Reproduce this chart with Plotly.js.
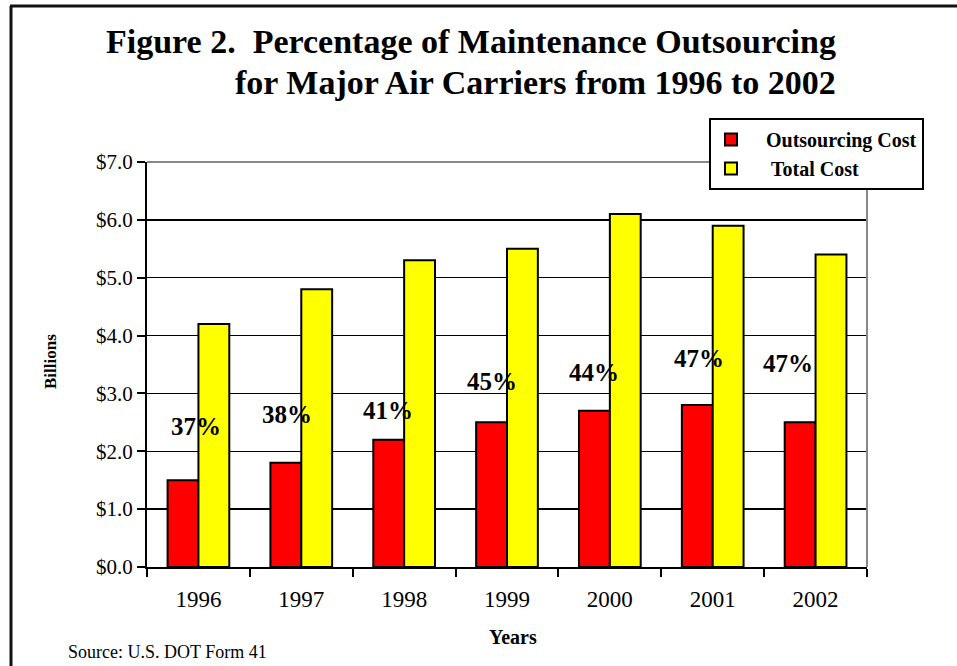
<!DOCTYPE html>
<html>
<head>
<meta charset="utf-8">
<script src="https://cdn.plot.ly/plotly-3.0.1.min.js"></script>
<style>html,body{margin:0;padding:0;background:#fff}#chart{width:957px;height:666px}</style>
</head>
<body>
<div id="chart"></div>
<script>
const years = ['1996','1997','1998','1999','2000','2001','2002'];
const outsourcingCost = [1.5, 1.8, 2.2, 2.5, 2.7, 2.8, 2.5];
const totalCost = [4.2, 4.8, 5.3, 5.5, 6.1, 5.9, 5.4];
const pctLabels = ['37%', '38%', '41%', '45%', '44%', '47%', '47%'];
const pctLabelY = [2.42, 2.64, 2.71, 3.21, 3.37, 3.61, 3.51];
const pctShift = [-2, -14, -16, -15, -16, -14, -28];
const seriesNames = ['Outsourcing Cost', 'Total Cost'];

const serif = 'Liberation Serif, Times New Roman, serif';

// pixel -> paper helpers (plot area 147..867 x, 162..567 y)
const L = 147, R = 867, T = 162, B = 567;
const px = v => (v - L) / (R - L);
const py = v => (B - v) / (B - T);

const traces = [
  {type: 'bar', name: '\u00a0\u00a0\u00a0' + seriesNames[0], x: years, y: outsourcingCost,
   marker: {color: '#FF0000', line: {color: '#000', width: 2}}},
  {type: 'bar', name: '\u00a0\u00a0\u00a0\u00a0' + seriesNames[1], x: years, y: totalCost,
   marker: {color: '#FFFF00', line: {color: '#000', width: 2}}}
];

const annotations = [
  {xref: 'paper', yref: 'paper', x: px(838), y: py(41), xanchor: 'right', yanchor: 'middle',
   text: '<b>Figure 2.  Percentage of Maintenance Outsourcing</b>', showarrow: false,
   font: {family: serif, size: 34, color: '#000'}},
  {xref: 'paper', yref: 'paper', x: px(838), y: py(83), xanchor: 'right', yanchor: 'middle',
   text: '<b>for Major Air Carriers from 1996 to 2002</b>', showarrow: false,
   font: {family: serif, size: 34, color: '#000'}},
  {xref: 'paper', yref: 'paper', x: px(50), y: py(362), xanchor: 'center', yanchor: 'middle', textangle: -90,
   text: '<b>Billions</b>', showarrow: false, font: {family: serif, size: 17, color: '#000'}},
  {xref: 'paper', yref: 'paper', x: px(513), y: py(637), xanchor: 'center', yanchor: 'middle',
   text: '<b>Years</b>', showarrow: false, font: {family: serif, size: 20, color: '#000'}},
  {xref: 'paper', yref: 'paper', x: px(66), y: py(652), xanchor: 'left', yanchor: 'middle',
   text: 'Source: U.S. DOT Form 41', showarrow: false, font: {family: serif, size: 18, color: '#000'}}
];
years.forEach((yr, i) => {
  annotations.push({x: i, y: pctLabelY[i], xref: 'x', yref: 'y', xshift: pctShift[i],
    xanchor: 'center', yanchor: 'middle',
    text: '<b>' + pctLabels[i] + '</b>', showarrow: false,
    font: {family: serif, size: 25, color: '#000'}});
});

const shapes = [
  // outer frame (left + top)
  {type: 'line', xref: 'paper', yref: 'paper', x0: px(11), x1: px(11), y0: py(6), y1: py(700),
   line: {color: '#111', width: 3}},
  {type: 'line', xref: 'paper', yref: 'paper', x0: px(10), x1: px(1000), y0: py(6), y1: py(6),
   line: {color: '#111', width: 3}},
  // gray plot top and right
  {type: 'line', xref: 'paper', yref: 'paper', x0: 0, x1: 1, y0: 1, y1: 1,
   line: {color: '#888', width: 2}},
  {type: 'line', xref: 'paper', yref: 'paper', x0: 1, x1: 1, y0: 0, y1: 1,
   line: {color: '#888', width: 2}}
];

const layout = {
  width: 957, height: 666,
  margin: {l: L, r: 957 - R, t: T, b: 666 - B, autoexpand: false},
  paper_bgcolor: '#fff', plot_bgcolor: '#fff',
  font: {family: serif, color: '#000'},
  barmode: 'group', bargap: 0.4, bargroupgap: 0,
  showlegend: true,
  legend: {x: px(709), y: py(118), xanchor: 'left', yanchor: 'top',
    bgcolor: '#fff', bordercolor: '#000', borderwidth: 2,
    font: {family: serif, size: 20, color: '#000', weight: 'bold'},
    itemwidth: 30, traceorder: 'normal'},
  xaxis: {type: 'category', range: [-0.5, 6.5], showgrid: false, showline: true, linecolor: '#000', linewidth: 2,
    ticks: 'outside', tickson: 'boundaries', ticklen: 8, tickwidth: 2, tickcolor: '#000',
    ticklabelstandoff: 10,
    tickfont: {family: serif, size: 23, color: '#000'}, zeroline: false, fixedrange: true},
  yaxis: {range: [0, 7], dtick: 1, tickformat: '$.1f', showgrid: true, gridcolor: '#000', gridwidth: 1.5,
    showline: true, linecolor: '#000', linewidth: 2, ticks: 'outside', ticklen: 8, tickwidth: 2,
    tickcolor: '#000', tickfont: {family: serif, size: 21, color: '#000'}, zeroline: false,
    fixedrange: true},
  annotations: annotations,
  shapes: shapes
};

Plotly.newPlot('chart', traces, layout, {displayModeBar: false, staticPlot: true});
</script>
</body>
</html>
